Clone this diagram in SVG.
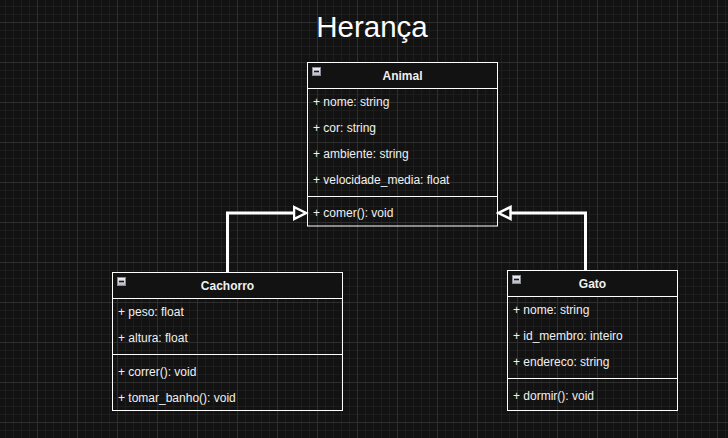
<svg xmlns="http://www.w3.org/2000/svg" width="728" height="438" viewBox="0 0 728 438">
<style>
.bg{fill:#121212}
.box{fill:none;stroke:#ffffff;stroke-width:1}
.hdr{fill:#121212;stroke:#ffffff;stroke-width:1}
.sep{stroke:#ffffff;stroke-width:1}
.t{font-family:"Liberation Sans",Arial,Helvetica,sans-serif;font-size:12px;fill:#f0f0f0}
.h{font-family:"Liberation Sans",Arial,Helvetica,sans-serif;font-size:12px;font-weight:bold;fill:#f0f0f0;text-anchor:middle}
.title{font-family:"Liberation Sans",Arial,Helvetica,sans-serif;font-size:29.5px;fill:#ffffff;text-anchor:middle}
.conn{fill:none;stroke:#ffffff;stroke-width:3}
.ico{fill:url(#icog);stroke:#8a8c99;stroke-width:1}
.icm{stroke:#1a1a1a;stroke-width:1.6}
</style>
<defs>
<pattern id="minor" patternUnits="userSpaceOnUse" x="5" y="6" width="8" height="8">
<path d="M0.5 0V8M0 0.5H8" stroke="#1d1d1d" stroke-width="1" fill="none"/>
</pattern>
<pattern id="major" patternUnits="userSpaceOnUse" x="37" y="22" width="40" height="40">
<path d="M0.5 0V40M0 0.5H40" stroke="#2e2e2e" stroke-width="1" fill="none"/>
</pattern>
<linearGradient id="icog" x1="0" y1="0" x2="0" y2="1">
<stop offset="0" stop-color="#f4f4f8"/>
<stop offset="1" stop-color="#b4b6c2"/>
</linearGradient>
<marker id="inh" markerUnits="userSpaceOnUse" markerWidth="16" markerHeight="16" refX="1.5" refY="7" orient="auto" viewBox="0 0 16 14">
<path d="M1.5 1L13.5 7L1.5 13Z" fill="#121212" stroke="#ffffff" stroke-width="2.5" stroke-linejoin="miter"/>
</marker>
</defs>
<rect class="bg" x="0" y="0" width="728" height="438"/>
<rect x="0" y="0" width="728" height="438" fill="url(#minor)"/>
<rect x="0" y="0" width="728" height="438" fill="url(#major)"/>
<text class="title" x="372" y="37">Herança</text>
<g id="connectors">
<path class="conn" d="M227.5 272.5V213H294" marker-end="url(#inh)"/>
<path class="conn" d="M585.5 270.5V213H510.5" marker-end="url(#inh)"/>
</g>
<g id="animal">
<rect class="hdr" x="307.5" y="62.5" width="190" height="26"/>
<rect class="box" x="307.5" y="62.5" width="190" height="163.5"/>
<rect class="ico" x="312.5" y="67.5" width="8" height="8"/>
<line class="icm" x1="314" y1="71.5" x2="319" y2="71.5"/>
<text class="h" x="402.5" y="80">Animal</text>
<text class="t" x="313" y="106">+ nome: string</text>
<text class="t" x="313" y="132">+ cor: string</text>
<text class="t" x="313" y="158">+ ambiente: string</text>
<text class="t" x="313" y="184">+ velocidade_media: float</text>
<line class="sep" x1="307.5" y1="196.5" x2="497.5" y2="196.5"/>
<text class="t" x="313" y="217">+ comer(): void</text>
</g>
<g id="cachorro">
<rect class="hdr" x="112.5" y="272.5" width="230" height="26"/>
<rect class="box" x="112.5" y="272.5" width="230" height="138"/>
<rect class="ico" x="117.5" y="277.5" width="8" height="8"/>
<line class="icm" x1="119" y1="281.5" x2="124" y2="281.5"/>
<text class="h" x="227.5" y="289.5">Cachorro</text>
<text class="t" x="118" y="316">+ peso: float</text>
<text class="t" x="118" y="342">+ altura: float</text>
<line class="sep" x1="112.5" y1="354.5" x2="342.5" y2="354.5"/>
<text class="t" x="118" y="376">+ correr(): void</text>
<text class="t" x="118" y="402">+ tomar_banho(): void</text>
</g>
<g id="gato">
<rect class="hdr" x="507.5" y="270.5" width="170" height="26"/>
<rect class="box" x="507.5" y="270.5" width="170" height="140"/>
<rect class="ico" x="512.5" y="275.5" width="8" height="8"/>
<line class="icm" x1="514" y1="279.5" x2="519" y2="279.5"/>
<text class="h" x="592.5" y="287.5">Gato</text>
<text class="t" x="513" y="314">+ nome: string</text>
<text class="t" x="513" y="340">+ id_membro: inteiro</text>
<text class="t" x="513" y="366">+ endereco: string</text>
<line class="sep" x1="507.5" y1="378.5" x2="677.5" y2="378.5"/>
<text class="t" x="513" y="400">+ dormir(): void</text>
</g>
</svg>
